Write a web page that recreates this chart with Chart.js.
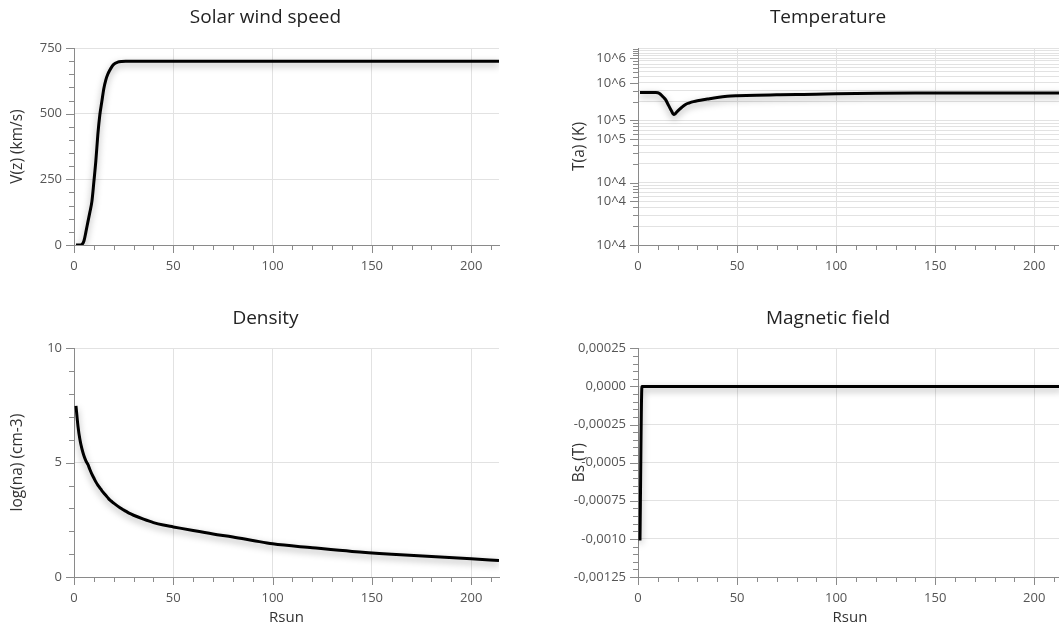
<!DOCTYPE html>
<html>
<head>
<meta charset="utf-8">
<script src="https://cdn.jsdelivr.net/npm/chart.js@4.4.1/dist/chart.umd.min.js"></script>
<style>
  html, body { margin:0; padding:0; background:#fff; overflow:hidden; }
  #wrap { position:relative; width:1059px; height:632px; overflow:hidden; }
  canvas { position:absolute; }
</style>
</head>
<body>
<div id="wrap">
  <canvas id="speedChart" width="531" height="301" style="left:0;top:0"></canvas>
  <canvas id="tempChart" width="532" height="301" style="left:562px;top:0"></canvas>
  <canvas id="densChart" width="531" height="331" style="left:0;top:301px"></canvas>
  <canvas id="magChart" width="532" height="331" style="left:562px;top:301px"></canvas>
</div>
<script>
// ======================================
// DATA
// ======================================
const rsun = [1,2,3,4,5,6,7,8,9,10,11,12,13,14,15,16,17,18,19,20,22,24,26,28,30,35,40,45,50,60,70,80,90,100,120,140,160,180,200,214];

// V(z) km/s
const speed = [0,0,0,2,15,50,88,125,165,240,320,420,495,545,595,628,650,665,678,688,696,699,700,700,700,700,700,700,700,700,700,700,700,700,700,700,700,700,700,700];

// T(a) K
const temperature = [2.8e6,2.8e6,2.8e6,2.8e6,2.8e6,2.8e6,2.8e6,2.8e6,2.8e6,2.78e6,2.68e6,2.5e6,2.32e6,2.13e6,1.85e6,1.6e6,1.4e6,1.24e6,1.3e6,1.41e6,1.61e6,1.8e6,1.91e6,2.0e6,2.07e6,2.2e6,2.33e6,2.43e6,2.48e6,2.54e6,2.57e6,2.6e6,2.63e6,2.67e6,2.72e6,2.75e6,2.76e6,2.76e6,2.76e6,2.76e6];

// log(na) cm-3
const density = [7.48,6.6,6.0,5.6,5.3,5.08,4.92,4.7,4.5,4.33,4.16,4.02,3.9,3.78,3.67,3.57,3.47,3.37,3.3,3.23,3.1,2.98,2.88,2.78,2.7,2.53,2.38,2.27,2.19,2.03,1.88,1.75,1.6,1.45,1.28,1.12,1.0,0.9,0.8,0.72];

// Bs T
const bfield = [-0.00101,0,0,0,0,0,0,0,0,0,0,0,0,0,0,0,0,0,0,0,0,0,0,0,0,0,0,0,0,0,0,0,0,0,0,0,0,0,0,0];

// tick labels
const xMajor = [0,50,100,150,200];
const xLabels = ['0','50','100','150','200'];
const speedMajor = [0,250,500,750];
const speedLabels = ['0','250','500','750'];
const densMajor = [0,5,10];
const densLabels = ['0','5','10'];
const magMajor = [-0.00125,-0.001,-0.00075,-0.0005,-0.00025,0,0.00025];
const magLabels = ['-0,00125','-0,0010','-0,00075','-0,0005','-0,00025','0,0000','0,00025'];
const tempMajor = [1e4,5e4,1e5,5e5,1e6,4e6,1e7];
const tempLabels = ['10^4','10^4','10^4','10^5','10^5','10^6','10^6'];

// ======================================
// HELPERS
// ======================================
Chart.defaults.font.family = "'Open Sans', sans-serif";

const AXIS = '#8a8a8a';
const GRID = '#e2e2e2';
const TEXT = '#555';

function linearTicks(majors, labels, sub, max){
  const step = (majors[1] - majors[0]) / sub;
  const start = majors[0];
  const end = max !== undefined ? max : majors[majors.length - 1];
  const n = Math.floor((end - start) / step + 1e-6);
  const out = [];
  for(let i = 0; i <= n; i++){
    const v = start + i * step;
    const j = majors.findIndex(m => Math.abs(m - v) < step / 100);
    out.push({ value: j >= 0 ? majors[j] : v, isMajor: j >= 0, text: j >= 0 ? labels[j] : '' });
  }
  return out;
}

function logTicks(majors, labels, min, max){
  const vals = [];
  for(let e = Math.floor(Math.log10(min)); e <= Math.ceil(Math.log10(max)); e++){
    for(let i = 1; i <= 9; i++){
      const v = i * Math.pow(10, e);
      if(v >= min && v <= max) vals.push(v);
    }
  }
  for(let k = 11; k <= 14; k++) vals.push(k * 1e6);
  return vals.filter(v => v <= max).map(v => {
    const j = majors.findIndex(m => Math.abs(m - v) / m < 1e-6);
    return { value: v, isMajor: j >= 0, text: j >= 0 ? labels[j] : '' };
  });
}

// tick marks: major 8px, minor 5px
const tickMarks = {
  id:'tickMarks',
  afterDraw(chart){
    const c = chart.ctx;
    c.save();
    c.strokeStyle = AXIS;
    c.lineWidth = 1;
    Object.values(chart.scales).forEach(scale => {
      scale.ticks.forEach((t, i) => {
        const len = t.isMajor ? 8 : 5;
        const p = Math.round(scale.getPixelForTick(i)) + 0.5;
        c.beginPath();
        if(scale.isHorizontal()){
          c.moveTo(p, scale.top);
          c.lineTo(p, scale.top + len);
        }
        else{
          c.moveTo(scale.right, p);
          c.lineTo(scale.right - len, p);
        }
        c.stroke();
      });
    });
    c.restore();
  }
};

// soft drop shadow under the series line
const lineShadow = {
  id:'lineShadow',
  beforeDatasetDraw(chart){
    const c = chart.ctx;
    c.save();
    c.shadowColor = 'rgba(0,0,0,0.35)';
    c.shadowBlur = 7;
    c.shadowOffsetY = 3;
  },
  afterDatasetDraw(chart){
    chart.ctx.restore();
  }
};

// title centred on the whole panel, not on the padded area
const centerTitle = {
  id:'centerTitle',
  afterLayout(chart){
    const t = chart.titleBlock;
    if(t){
      t.left = 0;
      t.right = chart.width;
      t.width = chart.width;
    }
  }
};

function makeChart(id, o){

  const points = rsun.map((r, i) => ({ x:r, y:o.values[i] }));

  return new Chart(document.getElementById(id), {

    type:'line',

    data:{
      datasets:[{
        data:points,
        borderColor:'#000',
        borderWidth:3,
        pointRadius:0,
        cubicInterpolationMode:'monotone',
        fill:false
      }]
    },

    plugins:[tickMarks, lineShadow, centerTitle],

    options:{
      responsive:false,
      animation:false,
      devicePixelRatio:1,

      layout:{
        padding:{ right:32 }
      },

      plugins:{
        legend:{ display:false },
        tooltip:{ enabled:false },
        title:{
          display:true,
          text:o.title,
          color:'#222',
          font:{ size:19, weight:'normal' },
          padding:{ top:6.6, bottom:o.titleGap }
        }
      },

      scales:{

        x:{
          type:'linear',
          min:0,
          max:214,
          afterBuildTicks(scale){
            scale.ticks = linearTicks(xMajor, xLabels, 5, 214);
          },
          afterFit(scale){
            scale.height = o.xHeight;
          },
          ticks:{
            autoSkip:false,
            maxRotation:0,
            padding:13,
            color:TEXT,
            font:{ size:13 },
            callback:(v, i, ticks) => ticks[i].text
          },
          grid:{
            drawTicks:false,
            color:(ctx) => ctx.tick && ctx.tick.isMajor ? GRID : 'rgba(0,0,0,0)'
          },
          border:{ color:AXIS },
          title:{
            display:!!o.xTitle,
            text:o.xTitle || '',
            color:'#333',
            font:{ size:15 },
            padding:{ top:0, bottom:5 }
          }
        },

        y:{
          type:o.log ? 'logarithmic' : 'linear',
          min:o.min,
          max:o.max,
          afterBuildTicks(scale){
            scale.ticks = o.log
              ? logTicks(tempMajor, tempLabels, o.min, o.max)
              : linearTicks(o.major, o.labels, 5);
          },
          afterFit(scale){
            scale.width = o.yWidth;
          },
          ticks:{
            autoSkip:false,
            padding:12,
            color:TEXT,
            font:{ size:13 },
            callback:(v, i, ticks) => ticks[i].text
          },
          grid:{
            drawTicks:false,
            color:(ctx) => {
              if(!ctx.tick) return 'rgba(0,0,0,0)';
              if(o.log) return GRID;
              return ctx.tick.isMajor ? GRID : 'rgba(0,0,0,0)';
            }
          },
          border:{ color:AXIS },
          title:{
            display:true,
            text:o.yTitle,
            color:'#333',
            font:{ size:15.5 },
            padding:{ top:8.5, bottom:0 }
          }
        }
      }
    }
  });
}

// ======================================
// CHARTS
// ======================================
makeChart('speedChart', {
  title:'Solar wind speed', titleGap:18.6,
  values:speed, min:0, max:750,
  major:speedMajor, labels:speedLabels,
  yTitle:'V(z) (km/s)', yWidth:74, xHeight:56
});

makeChart('tempChart', {
  title:'Temperature', titleGap:18.6,
  values:temperature, log:true, min:1e4, max:1.45e7,
  yTitle:'T(a) (K)', yWidth:76, xHeight:56
});

makeChart('densChart', {
  title:'Density', titleGap:17.9,
  values:density, min:0, max:10,
  major:densMajor, labels:densLabels,
  yTitle:'log(na) (cm-3)', yWidth:74, xHeight:55, xTitle:'Rsun'
});

makeChart('magChart', {
  title:'Magnetic field', titleGap:17.9,
  values:bfield, min:-0.00125, max:0.00025,
  major:magMajor, labels:magLabels,
  yTitle:'Bs (T)', yWidth:76, xHeight:55, xTitle:'Rsun'
});
</script>
</body>
</html>
